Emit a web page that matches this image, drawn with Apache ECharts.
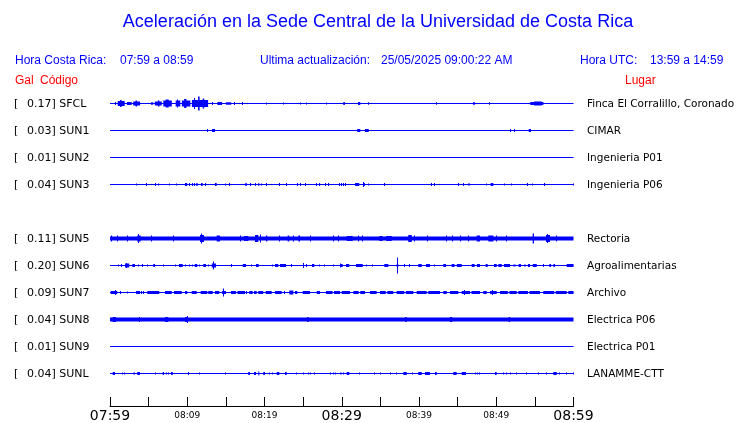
<!DOCTYPE html>
<html><head><meta charset="utf-8">
<script src="https://cdn.jsdelivr.net/npm/echarts@6/dist/echarts.min.js"></script>
<style>html,body{margin:0;padding:0;background:#fff}#c{width:740px;height:423px}</style>
</head><body><div id="c"></div>
<script>
// ---------- DATA ----------
const stations = ['SFCL','SUN1','SUN2','SUN3','SUN5','SUN6','SUN7','SUN8','SUN9','SUNL'];
const galValues = ['0.17','0.03','0.01','0.04','0.11','0.20','0.09','0.04','0.01','0.04'];
const places = ['Finca El Corralillo, Coronado','CIMAR','Ingenieria P01','Ingenieria P06','Rectoria','Agroalimentarias','Archivo','Electrica P06','Electrica P01','LANAMME-CTT'];
// continuous background amplitude of each trace
const bandAmp = [0.5,0.5,0.5,0.5,2,0.5,0.5,2,0.5,0.5];
// bursts: [startMinute, endMinute, amplitude], minutes after 07:59
const sfclBursts = [[0.74,0.74,1.5],[1.0,1.9,2.5],[1.3,1.5,3.5],[2.2,2.8,1.5],[3.0,3.9,2],[3.3,3.5,3],[5.3,5.6,1.2],[5.8,6.7,2],[6.2,6.4,3],[6.9,8.0,3],[7.2,7.6,4],[8.5,9.1,3],[8.7,8.8,4],[9.3,10.4,3],[9.6,9.9,4.5],[10.6,12.7,3.5],[11.0,11.1,5.5],[11.4,11.6,7],[12.0,12.2,5],[13.3,13.3,1.5],[13.9,14.5,1.5],[15.0,15.7,1.2],[16.1,16.1,1.5],[17.1,17.1,1.5],[20.2,20.2,1],[22.4,22.4,1],[24.6,24.6,1],[25.5,25.5,1],[28.0,28.0,1],[30.2,30.4,1.5],[32.1,32.4,1.5],[33.4,33.4,1.2],[42.3,42.3,1.2],[47.0,47.0,1.2],[47.2,47.2,1.2],[49.1,49.1,1.2],[54.4,56.1,1.5],[54.9,55.9,2]];
const sun1Bursts = [[12.6,12.6,1.5],[13.2,13.6,1.5],[32.0,32.4,1.5],[33.0,33.5,1.5],[51.8,51.8,1.5],[52.3,52.3,1.5],[54.2,54.5,1.5]];
const sun2Bursts = [];
const sun3Bursts = [[3.37,3.37,1],[4.70,4.70,1.5],[5.83,5.83,1.5],[6.25,6.25,1],[7.68,7.68,1],[8.63,8.63,1],[9.71,10.0,1.5],[10.27,10.27,1.5],[10.7,10.7,1.5],[10.96,10.96,1.5],[11.17,11.35,1.5],[11.78,12.0,1.5],[12.34,12.34,1.5],[13.59,13.81,1.5],[14.93,14.93,1],[15.44,15.44,1.5],[17.51,17.7,1.5],[18.21,18.21,1.5],[18.86,18.86,1.5],[19.2,19.33,1.5],[19.64,19.64,1],[20.28,20.28,1.5],[22.0,22.0,1.5],[22.87,22.87,1.5],[24.3,24.3,1.5],[24.6,24.6,1.5],[25.28,25.28,1.5],[26.67,26.67,1.5],[27.18,27.18,1.5],[27.87,27.87,1.5],[28.31,28.31,1.5],[29.68,29.68,1.5],[29.94,29.94,1.5],[30.25,30.25,1.5],[30.55,30.55,1.5],[31.72,32.27,1.5],[32.79,33.0,1.5],[32.88,32.88,2.5],[33.44,33.44,1],[35.47,35.47,1.5],[41.64,41.64,1.5],[42.07,42.07,1.5],[45.09,45.09,1.5],[45.73,45.73,1.5],[46.38,46.38,1],[46.6,46.6,1],[48.76,48.76,1],[49.28,49.62,1.5],[51.13,51.13,1],[52.0,52.0,1],[54.02,54.02,1.5],[54.72,54.72,1],[56.31,56.31,1.5],[59.97,59.97,1]];
const sun5Bursts = [[0.22,0.22,3],[0.94,0.94,3],[2.24,2.24,3],[3.53,3.97,3],[3.7,3.8,4.5],[5.31,5.31,3],[8.28,8.28,3],[11.65,12.17,3.5],[11.8,11.9,5],[13.81,14.24,3],[16.83,16.83,3],[17.35,17.9,2.5],[18.77,19.2,3.5],[19.51,19.51,4],[20.19,20.36,3],[22.0,22.0,3],[23.0,23.2,3],[23.73,23.73,3],[24.38,24.6,3],[25.98,25.98,3],[28.91,28.91,3],[29.6,29.6,3],[30.64,31.42,2.5],[32.14,32.14,3],[32.66,32.66,3],[34.86,35.3,2.5],[35.73,36.47,2.5],[38.61,39.06,3.5],[39.48,39.48,3],[41.07,41.07,3],[43.5,43.5,3],[44.36,44.36,3],[45.31,45.31,3],[46.38,46.38,3],[47.47,47.9,3],[48.97,49.62,3],[49.97,49.97,3],[51.35,51.35,3],[54.72,54.89,5],[56.44,56.96,3.5],[56.6,56.7,4.5],[57.83,57.83,3]];
const sun6Bursts = [[1.07,1.07,1],[1.51,1.51,1.5],[1.94,2.5,2],[2.2,2.3,2.5],[2.89,3.24,1.5],[3.66,3.66,1],[4.23,4.23,1.5],[4.83,4.83,1],[5.61,5.83,1.5],[6.99,6.99,1],[8.54,8.54,1],[8.93,9.41,1.5],[9.71,9.71,1],[10.27,10.27,1],[10.65,10.65,1],[10.96,11.3,1.5],[11.56,11.56,1],[12.08,12.43,1.5],[12.72,12.72,1],[13.17,13.72,2],[13.4,13.5,4],[15.75,15.75,1.5],[17.18,17.61,1.5],[18.34,18.34,1],[18.9,19.25,1.5],[21.01,21.01,1],[21.36,21.79,1.5],[22.01,22.78,1.5],[23.52,23.52,1.5],[25.11,25.11,2.5],[25.46,25.46,1.5],[26.15,26.45,1.5],[27.09,27.09,1],[27.83,27.83,1],[28.91,28.91,1],[29.9,29.9,2],[29.77,30.12,1.5],[30.55,30.98,1.5],[31.84,32.71,1.5],[33.14,33.14,1],[33.95,33.95,1],[35.51,36.03,1.5],[37.11,37.32,1.5],[37.2,37.2,8],[38.06,38.06,1.5],[38.83,38.83,1.5],[39.91,40.35,1.5],[40.91,41.42,1.5],[42.07,42.07,1],[43.15,43.5,1.5],[44.23,44.6,1.5],[44.9,45.53,1.5],[46.82,47.2,1.5],[47.5,47.9,1.5],[48.63,48.89,1.5],[49.71,50.06,1.5],[50.27,50.7,1.5],[51.0,51.78,1.5],[52.21,52.5,1],[52.9,53.2,1.5],[53.6,53.8,1],[54.1,54.37,1.5],[54.72,55.24,1.5],[56.18,56.18,1.5],[56.87,57.1,1.5],[57.4,57.61,1.5],[59.12,60,1.5]];
const sun7Bursts = [[0.09,0.94,1.5],[0.65,0.75,2.5],[1.39,1.39,1.5],[2.24,2.24,1],[3.37,3.88,1.5],[4.1,4.1,1.5],[4.4,4.4,1.5],[4.83,6.38,1.5],[7.12,7.99,1.5],[8.28,9.28,1.5],[9.71,10.0,1.5],[10.58,11.22,1.5],[11.74,12.6,1.5],[12.72,13.29,1.5],[13.59,14.15,1.5],[14.5,15.02,1.5],[14.7,14.8,4],[15.66,16.3,1.5],[16.5,17.48,1.5],[17.7,17.7,1.5],[18.03,18.47,1.5],[18.64,18.99,1.5],[19.2,19.84,1.5],[20.16,20.93,1.5],[21.36,22.23,1.5],[22.56,22.56,1.5],[23.21,23.73,2],[23.95,24.25,1.5],[24.95,25.89,1.5],[26.76,27.18,1.5],[27.96,28.8,1.5],[29.0,29.77,1.5],[29.99,31.07,1.5],[31.5,32.2,1.5],[32.4,33.0,1.5],[33.66,34.52,1.5],[34.95,35.7,1.5],[35.9,36.67,1.5],[37.11,38.1,1.5],[38.3,39.26,1.5],[39.7,41.0,1.5],[41.2,42.72,1.5],[43.15,43.59,1.5],[44.01,45.09,1.5],[45.53,46.6,1.5],[46.8,47.9,1.5],[45.9,46.0,2.5],[48.32,48.76,1.5],[49.19,50.06,1.5],[49.5,49.6,2.5],[50.49,51.5,1.5],[51.7,52.65,1.5],[52.85,54.1,1.5],[54.3,55.66,1.5],[56.09,57.5,1.5],[57.7,59.12,1.5],[59.33,60,1.5]];
const sun8Bursts = [[0.35,0.78,2.5],[3.88,3.88,2.5],[7.12,7.55,2.5],[9.71,10.1,2.5],[10.0,10.0,3.5],[25.5,25.7,2.5],[38.2,38.4,2.5],[44.0,44.3,2.5],[51.6,51.8,2.5]];
const sun9Bursts = [];
const sunlBursts = [[0.35,0.65,1.5],[1.64,1.64,1],[1.94,1.94,1],[3.02,3.24,1],[3.53,3.88,1.5],[5.83,5.83,1],[6.82,6.99,1.5],[7.34,7.34,1],[7.55,7.55,1],[7.9,8.12,1.5],[10.14,10.14,1.5],[11.65,11.65,1],[14.89,14.89,1],[17.9,18.12,1.5],[18.64,18.9,1.5],[19.2,19.33,2],[19.84,20.06,1.5],[20.71,20.71,1],[21.06,21.06,1],[21.58,21.92,1.5],[22.65,22.87,1.5],[24.17,24.17,1],[25.02,25.02,1],[25.67,25.67,1],[25.89,25.89,1],[26.41,26.41,1],[28.48,28.48,1],[28.91,28.91,1],[29.13,29.13,1],[29.77,29.99,1],[30.2,30.2,1],[30.64,30.98,1.5],[32.36,32.36,1],[34.3,34.3,1],[35.04,35.04,1],[36.25,36.25,1],[37.11,37.11,1],[37.97,38.41,1.5],[39.18,39.18,1],[39.91,40.35,1.5],[40.78,41.42,1.5],[42.07,42.29,1.5],[44.44,44.88,1.5],[45.53,46.08,1.5],[47.25,47.25,1],[47.55,47.55,1],[47.81,47.81,1],[49.84,50.06,1.5],[50.91,50.91,1],[51.35,51.35,1],[51.78,51.78,1],[52.65,52.65,1],[53.94,53.94,1],[55.44,55.44,1],[56.53,56.53,1],[57.39,57.83,1.5],[58.25,58.25,1],[59.12,59.12,1],[59.97,59.97,1]];
const burstsByStation = [sfclBursts,sun1Bursts,sun2Bursts,sun3Bursts,sun5Bursts,sun6Bursts,sun7Bursts,sun8Bursts,sun9Bursts,sunlBursts];
const tickLabels = ['07:59','08:09','08:19','08:29','08:39','08:49','08:59'];
const spanMinutes = 60;

// ---------- LAYOUT ----------
const SLOT = [0,1,2,3,5,6,7,8,9,10];
const ROW0 = 103.5, STEP = 27, HALF = 13;
const PLOT_L = 110, PLOT_R = 740 - 573.5;
const BLUE = '#0000ff', RED = '#ff0000';
const SANS = '"Liberation Sans", Arial, sans-serif';
const DJ = '"DejaVu Sans", sans-serif';

const grids = [], xAxes = [], yAxes = [], series = [], graphics = [];
stations.forEach((st, i) => {
  const yc = ROW0 + STEP * SLOT[i];
  grids.push({left: PLOT_L, right: PLOT_R, top: yc - HALF, height: HALF * 2});
  xAxes.push({gridIndex: i, type: 'value', min: 0, max: spanMinutes, show: false});
  yAxes.push({gridIndex: i, type: 'value', min: -HALF, max: HALF, show: false});
  const data = [[0, spanMinutes, bandAmp[i]]].concat(burstsByStation[i]);
  series.push({
    type: 'custom', xAxisIndex: i, yAxisIndex: i, clip: false, silent: true,
    encode: {x: [0, 1], y: 2},
    data: data,
    renderItem: function (params, api) {
      const t0 = api.value(0), t1 = api.value(1), a = api.value(2);
      const p0 = api.coord([t0, a]), p1 = api.coord([t1, -a]);
      let x = p0[0], w = p1[0] - p0[0];
      if (w < 1) { x = Math.floor(x); w = 1; }
      return {type: 'rect', shape: {x: x, y: p0[1], width: w, height: p1[1] - p0[1]}, style: {fill: BLUE}};
    }
  });
  const ty = yc + 0.5;
  graphics.push({type: 'text', x: 14, y: ty, style: {text: '[', font: '11px ' + DJ, fill: '#000', verticalAlign: 'middle'}});
  graphics.push({type: 'text', x: 27, y: ty, style: {text: galValues[i] + '] ' + st, font: '11px ' + DJ, fill: '#000', verticalAlign: 'middle'}});
  graphics.push({type: 'text', x: 587, y: ty, style: {text: places[i], font: '10.5px ' + DJ, fill: '#000', verticalAlign: 'middle'}});
});

// time axis
const ai = stations.length;
grids.push({left: PLOT_L, right: PLOT_R, top: 300, height: 109.5});
xAxes.push({
  gridIndex: ai, type: 'value', min: 0, max: spanMinutes, interval: 5, position: 'bottom',
  axisLine: {show: true, lineStyle: {color: '#000', width: 1}},
  axisTick: {show: true, inside: true, length: 9, lineStyle: {color: '#000', width: 1}},
  splitLine: {show: false},
  axisLabel: {
    show: true, margin: 3, showMinLabel: true, showMaxLabel: true, hideOverlap: false,
    formatter: function (v) {
      if (v % 10 !== 0) return '';
      const lbl = tickLabels[v / 10];
      return v % 30 === 0 ? '{big|' + lbl + '}' : '{small|' + lbl + '}';
    },
    rich: {
      big: {fontSize: 14, fontFamily: DJ, color: '#000', lineHeight: 14},
      small: {fontSize: 9, fontFamily: DJ, color: '#000', lineHeight: 14}
    }
  }
});
yAxes.push({gridIndex: ai, type: 'value', show: false, min: 0, max: 1});

// header texts
graphics.push({type: 'text', x: 378, y: 22, style: {text: 'Aceleración en la Sede Central de la Universidad de Costa Rica', font: '18px ' + SANS, fill: BLUE, align: 'center', verticalAlign: 'middle'}});
const HY = 61, LY = 80.5;
graphics.push({type: 'text', x: 15, y: HY, style: {text: 'Hora Costa Rica:', font: '12px ' + SANS, fill: BLUE, verticalAlign: 'middle'}});
graphics.push({type: 'text', x: 120, y: HY, style: {text: '07:59 a 08:59', font: '12px ' + SANS, fill: BLUE, verticalAlign: 'middle'}});
graphics.push({type: 'text', x: 260, y: HY, style: {text: 'Ultima actualización:', font: '12px ' + SANS, fill: BLUE, verticalAlign: 'middle'}});
graphics.push({type: 'text', x: 381, y: HY, style: {text: '25/05/2025 09:00:22 AM', font: '12px ' + SANS, fill: BLUE, verticalAlign: 'middle'}});
graphics.push({type: 'text', x: 580, y: HY, style: {text: 'Hora UTC:', font: '12px ' + SANS, fill: BLUE, verticalAlign: 'middle'}});
graphics.push({type: 'text', x: 650, y: HY, style: {text: '13:59 a 14:59', font: '12px ' + SANS, fill: BLUE, verticalAlign: 'middle'}});
graphics.push({type: 'text', x: 15, y: LY, style: {text: 'Gal', font: '12px ' + SANS, fill: RED, verticalAlign: 'middle'}});
graphics.push({type: 'text', x: 40, y: LY, style: {text: 'Código', font: '12px ' + SANS, fill: RED, verticalAlign: 'middle'}});
graphics.push({type: 'text', x: 625, y: LY, style: {text: 'Lugar', font: '12px ' + SANS, fill: RED, verticalAlign: 'middle'}});

const chart = echarts.init(document.getElementById('c'), null, {renderer: 'canvas'});
chart.setOption({
  animation: false,
  backgroundColor: '#fff',
  grid: grids, xAxis: xAxes, yAxis: yAxes, series: series,
  graphic: graphics
});
</script></body></html>
